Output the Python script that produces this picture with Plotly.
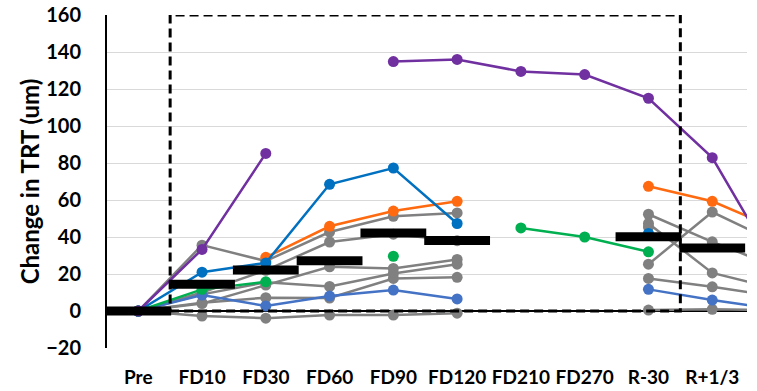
import plotly.graph_objects as go

categories = ["Pre", "FD10", "FD30", "FD60", "FD90", "FD120", "FD210", "FD270", "R-30", "R+1/3", "R+7"]

N = None
purple = [0, 33.3, 85.2, N, 134.8, 136.0, 129.5, 127.8, 115.0, 82.9, 24.0]
blue = [0, 21.0, 26.0, 68.5, 77.3, 47.3, N, N, 41.9, N, N]
orange = [N, N, 29.0, 45.8, 54.0, 59.3, N, N, 67.4, 59.3, 44.5]
green = [0, 11.7, 15.8, N, 29.6, N, 44.9, 40.0, 32.0, N, N]
royal = [0, 8.6, 2.7, 8.1, 11.3, 6.5, N, N, 11.7, 5.9, 1.0]

gray_a = [0, 35.6, 27.0, 42.7, 51.2, 53.0, N, N, 52.3, 37.4, 24.0]
gray_b = [0, 10.0, 22.0, 37.3, 41.5, 38.0, N, N, 47.3, 20.6, 12.0]
gray_c = [0, 4.0, 14.0, 23.9, 23.0, 27.9, N, N, 25.3, 53.5, 37.0]
gray_d = [0, 9.0, 15.5, 13.3, 20.3, 25.3, N, N, 45.4, N, N]
gray_e = [0, 4.5, 7.2, 7.0, 17.6, 18.2, N, N, 17.6, 13.1, 8.0]
gray_f = [0, -2.7, -3.9, -2.2, -2.2, -1.2, N, N, 0.5, 0.9, 0.5]

means = [0, 14.5, 22.1, 27.1, 42.2, 38.1, N, N, 40.1, 34.1, N]

y_ticks = [-20, 0, 20, 40, 60, 80, 100, 120, 140, 160]

FONT = "Lato, Open Sans, sans-serif"

fig = go.Figure()

def add(vals, color):
    fig.add_trace(go.Scatter(
        x=categories, y=vals, mode="lines+markers",
        line=dict(color=color, width=2.5),
        marker=dict(color=color, size=11),
        connectgaps=False, showlegend=False, hoverinfo="skip"))

for g in [gray_a, gray_b, gray_c, gray_d, gray_e, gray_f]:
    add(g, "#808080")
add(royal, "#4472C4")
add(green, "#00B050")
add(orange, "#FF6A10")
add(blue, "#0070C0")
add(purple, "#7030A0")

fig.add_trace(go.Scatter(
    x=categories, y=means, mode="markers",
    marker=dict(symbol="line-ew", size=47, color="black",
                line=dict(color="black", width=9)),
    showlegend=False, hoverinfo="skip"))

fig.add_shape(type="rect", xref="x", yref="y", x0=0.5, x1=8.5, y0=0, y1=160,
              line=dict(color="black", width=3, dash="9px,5px"), layer="above")

fig.update_layout(
    width=757, height=391,
    margin=dict(l=107, r=10, t=15, b=43),
    paper_bgcolor="white", plot_bgcolor="white",
    font=dict(family=FONT, color="black", size=18),
)
fig.update_xaxes(
    type="category", range=[-0.49, 9.545], automargin=False,
    showgrid=False, showline=False, zeroline=False,
    ticks="outside", ticklen=12, tickcolor="rgba(0,0,0,0)",
    tickfont=dict(family=FONT, size=19, color="black", weight="bold"),
)
fig.update_yaxes(
    range=[-20, 160], tickvals=y_ticks, automargin=False,
    showgrid=True, gridcolor="#D9D9D9", gridwidth=1,
    zeroline=True, zerolinecolor="black", zerolinewidth=2,
    showline=True, linecolor="black", linewidth=2,
    ticks="", ticklabelstandoff=20,
    tickfont=dict(family=FONT, size=20, color="black", weight="bold"),
    title=dict(text="Change in TRT (um)", standoff=0,
               font=dict(family=FONT, size=24, color="black", weight="bold")),
)

fig.write_html("out.html", config={"displayModeBar": False, "staticPlot": True},
               post_script="document.body.style.margin='0';")
